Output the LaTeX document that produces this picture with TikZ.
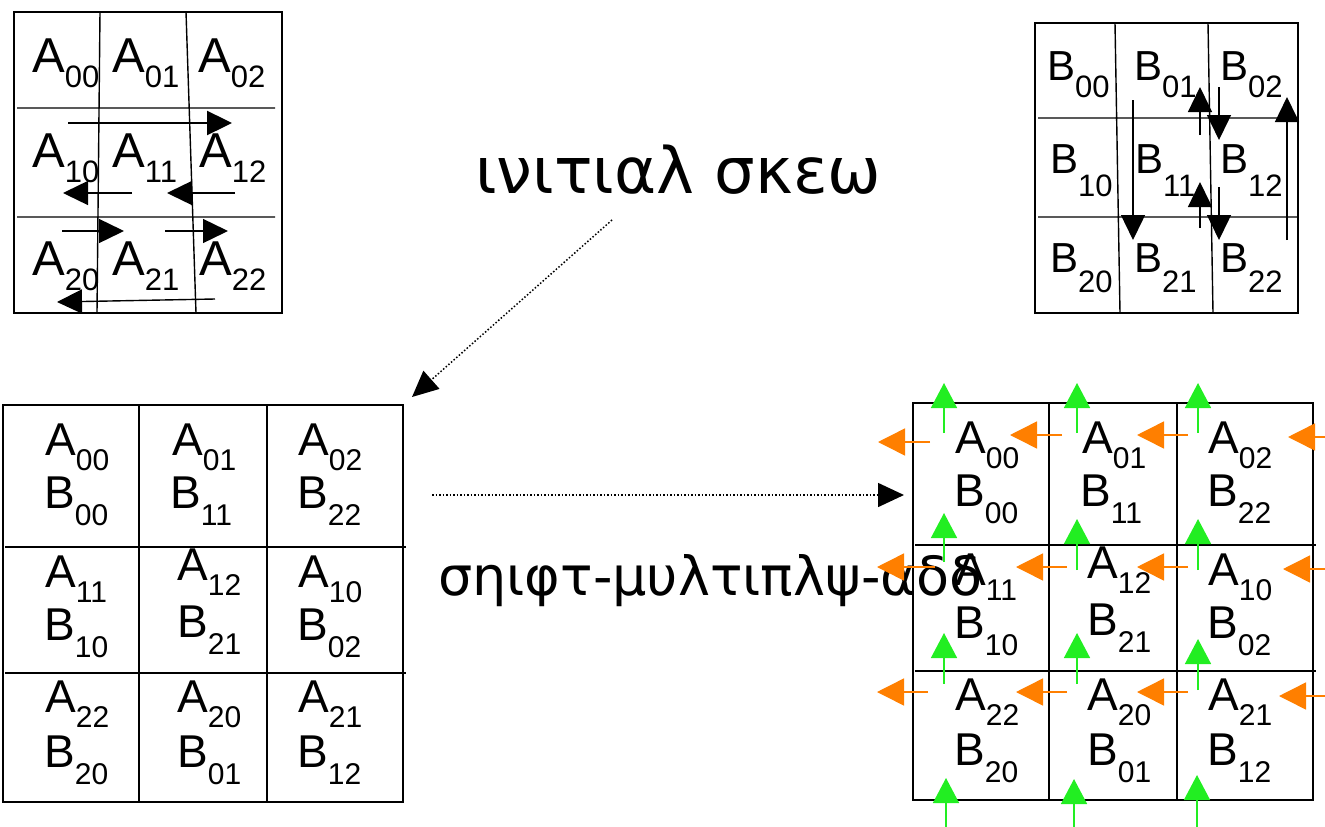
\documentclass[tikz,border=0pt]{standalone}
\usepackage{fontspec}
\setmainfont{Liberation Sans}
\newfontfamily\grk{DejaVu Sans}
\usetikzlibrary{arrows.meta}
\definecolor{grn}{HTML}{22EE22}
\definecolor{org}{HTML}{FF7F00}
\newcommand\subfont{\fontsize{30}{30}\selectfont}
\newcommand\lb[3][15]{#2\raisebox{-#1pt}{\subfont #3}}
\tikzset{
  lab/.style={anchor=base west, inner sep=0pt, font=\fontsize{46}{46}\selectfont},
  outer/.style={line width=1.8pt},
  inner/.style={line width=1.4pt},
  barr/.style={line width=1.4pt, -{Triangle[length=25pt,width=24pt]}},
  garr/.style={draw=grn, line width=1.5pt, -{Triangle[length=25pt,width=26pt]}},
  oarr/.style={draw=org, line width=1.5pt, -{Triangle[length=27pt,width=27pt]}},
  darr/.style={line width=1.5pt, dotted, -{Triangle[length=26pt,width=24pt]}},
  glab/.style={anchor=base west, inner sep=0pt},
}
\newcommand\botgrid[1]{%
  \draw[outer] (3,405) rectangle (403,802);
  \draw[inner] (5,547) -- (406,547) (5,673) -- (406,673) (139,405) -- (139,802) (267,405) -- (267,802);
  \node[lab] (#1A00) at (45,455) {\lb{A}{00}};
  \node[lab] (#1B00) at (44,508) {\lb[17]{B}{00}};
  \node[lab] (#1A01) at (172,455) {\lb{A}{01}};
  \node[lab] (#1B11) at (170,508) {\lb[17]{B}{11}};
  \node[lab] (#1A02) at (298,455) {\lb{A}{02}};
  \node[lab] (#1B22) at (297,508) {\lb[17]{B}{22}};
  \node[lab] (#1A11) at (45,587) {\lb{A}{11}};
  \node[lab] (#1B10) at (44,640) {\lb[17]{B}{10}};
  \node[lab] (#1A12) at (177,580) {\lb{A}{12}};
  \node[lab] (#1B21) at (177,637) {\lb[17]{B}{21}};
  \node[lab] (#1A10) at (298,587) {\lb{A}{10}};
  \node[lab] (#1B02) at (297,640) {\lb[17]{B}{02}};
  \node[lab] (#1A22) at (45,712) {\lb{A}{22}};
  \node[lab] (#1B20) at (44,767) {\lb[17]{B}{20}};
  \node[lab] (#1A20) at (177,712) {\lb{A}{20}};
  \node[lab] (#1B01) at (177,767) {\lb[17]{B}{01}};
  \node[lab] (#1A21) at (298,712) {\lb{A}{21}};
  \node[lab] (#1B12) at (297,767) {\lb[17]{B}{12}};
}
\begin{document}
\begin{tikzpicture}[x=1pt,y=-1pt]
\useasboundingbox (0,0) rectangle (1325,827);
% ---------- top-left grid A ----------
\begin{scope}
  \renewcommand\subfont{\fontsize{31}{31}\selectfont}
  \draw[outer] (14,12) rectangle (282,313);
  \draw[inner] (17,108) -- (275,108) (17,217) -- (275,217)
               (100,12) -- (97,313) (186,12) -- (196,313);
  \tikzset{lab/.append style={font=\fontsize{49}{49}\selectfont}}
  \node[lab] (tA00) at (32,72) {\lb{A}{00}};
  \node[lab] (tA01) at (112,72) {\lb{A}{01}};
  \node[lab] (tA02) at (198,72) {\lb{A}{02}};
  \node[lab] (tA10) at (32,167) {\lb{A}{10}};
  \node[lab] (tA11) at (112,167) {\lb{A}{11}};
  \node[lab] (tA12) at (199,167) {\lb{A}{12}};
  \node[lab] (tA20) at (32,275) {\lb{A}{20}};
  \node[lab] (tA21) at (112,275) {\lb{A}{21}};
  \node[lab] (tA22) at (199,275) {\lb{A}{22}};
  \draw[barr, line width=2.4pt] (68,123) -- (232,123);
  \draw[barr] (132,193) -- (63,193);
  \draw[barr] (235,193) -- (167,193);
  \draw[barr] (62,231) -- (124,231);
  \draw[barr] (165,231) -- (228,231);
  \draw[barr] (215,299) -- (57,302);
\end{scope}
% ---------- top-right grid B ----------
\begin{scope}
  \renewcommand\subfont{\fontsize{31}{31}\selectfont}
  \draw[outer] (1035,23) rectangle (1298,313);
  \draw[inner] (1038,118) -- (1297,118) (1038,217) -- (1297,217)
               (1115,23) -- (1120,313) (1208,23) -- (1213,313);
  \tikzset{lab/.append style={font=\fontsize{42}{42}\selectfont}}
  \node[lab] (tB00) at (1047,80) {\lb[17]{B}{00}};
  \node[lab] (tB01) at (1134,80) {\lb[17]{B}{01}};
  \node[lab] (tB02) at (1220,80) {\lb[17]{B}{02}};
  \node[lab] (tB10) at (1050,173) {\lb[23]{B}{10}};
  \node[lab] (tB11) at (1135,173) {\lb[23]{B}{11}};
  \node[lab] (tB12) at (1220,173) {\lb[23]{B}{12}};
  \node[lab] (tB20) at (1050,272) {\lb[20]{B}{20}};
  \node[lab] (tB21) at (1134,272) {\lb[20]{B}{21}};
  \node[lab] (tB22) at (1220,272) {\lb[20]{B}{22}};
  \draw[barr] (1133,100) -- (1133,240);
  \draw[barr] (1200,135) -- (1200,87);
  \draw[barr] (1219,87) -- (1219,140);
  \draw[barr] (1287,240) -- (1287,97);
  \draw[barr] (1200,228) -- (1200,182);
  \draw[barr] (1219,187) -- (1219,240);
\end{scope}
% ---------- labels ----------
\node[glab, font=\grk\fontsize{64}{64}\selectfont] (skew) at (475,193) {ινιτιαλ σκεω};
\node[glab, font=\grk\fontsize{54}{54}\selectfont] (sma) at (438,595) {σηιφτ-μυλτιπλψ-αδδ};
% ---------- bottom-left grid ----------
\botgrid{l}
% ---------- bottom-right grid ----------
\begin{scope}[shift={(910,-2)}]
  \botgrid{r}
\end{scope}
% green arrows
\draw[garr] (944,433) -- (944,383);
\draw[garr] (1077,433) -- (1077,383);
\draw[garr] (1198,433) -- (1198,383);
\draw[garr] (944,562) -- (944,513);
\draw[garr] (1077,570) -- (1077,519);
\draw[garr] (1198,570) -- (1198,519);
\draw[garr] (944,684) -- (944,633);
\draw[garr] (1077,684) -- (1077,633);
\draw[garr] (1198,690) -- (1198,639);
\draw[garr] (946,827) -- (946,778);
\draw[garr] (1074,827) -- (1074,779);
\draw[garr] (1197,827) -- (1197,775);
% orange arrows
\draw[oarr] (930,442) -- (878,442);
\draw[oarr] (1062,435) -- (1010,435);
\draw[oarr] (1188,435) -- (1137,435);
\draw[oarr] (1325,437) -- (1288,437);
\draw[oarr] (935,567) -- (877,567);
\draw[oarr] (1067,567) -- (1016,567);
\draw[oarr] (1188,567) -- (1137,567);
\draw[oarr] (1325,569) -- (1283,569);
\draw[oarr] (928,692) -- (877,692);
\draw[oarr] (1067,692) -- (1016,692);
\draw[oarr] (1188,692) -- (1137,692);
\draw[oarr] (1325,696) -- (1279,696);
% dotted connectors
\coordinate (skewS) at (612,220);
\coordinate (skewE) at (412,397);
\draw[darr] (skewS) -- (skewE);
\coordinate (midS) at (432,495);
\coordinate (midE) at (904,495);
\draw[darr] (midS) -- (midE);
\end{tikzpicture}
\end{document}
